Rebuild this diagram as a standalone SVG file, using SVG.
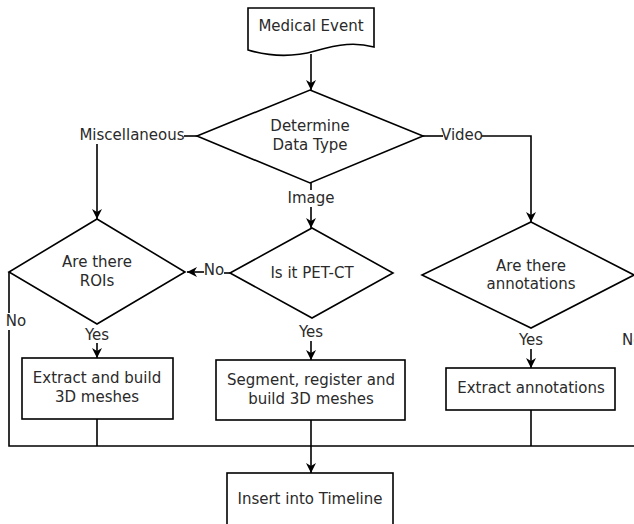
<svg xmlns="http://www.w3.org/2000/svg" width="634" height="524" viewBox="0 0 634 524">
<defs>
<style>
.s{fill:#fff;stroke:#000;stroke-width:1.6}
.c{fill:none;stroke:#000;stroke-width:1.6}
text{font-family:"DejaVu Sans",sans-serif;font-size:15px;fill:#2a2a2a;text-anchor:middle}
</style>
<marker id="a" viewBox="0 0 10 10" refX="10" refY="5" markerWidth="10" markerHeight="10" markerUnits="userSpaceOnUse" orient="auto">
<path d="M0,0 L10,5 L0,10 L3,5 z" fill="#000"/>
</marker>
</defs>
<rect width="634" height="524" fill="#fff"/>
<g id="connectors">
<path class="c" d="M311,54 V90" marker-end="url(#a)"/>
<path class="c" d="M197,136 H184"/>
<path class="c" d="M97,144 V219" marker-end="url(#a)"/>
<path class="c" d="M423,136 H443"/>
<path class="c" d="M481,136 H531 V222" marker-end="url(#a)"/>
<path class="c" d="M311,183 V190"/>
<path class="c" d="M311,207 V228" marker-end="url(#a)"/>
<path class="c" d="M230,273 H224"/>
<path class="c" d="M204,272 H187" marker-end="url(#a)"/>
<path class="c" d="M9,272 V313"/>
<path class="c" d="M9,330 V446 H634"/>
<path class="c" d="M97,343 V358" marker-end="url(#a)"/>
<path class="c" d="M311,341 V360" marker-end="url(#a)"/>
<path class="c" d="M531,349 V368" marker-end="url(#a)"/>
<path class="c" d="M97,419 V446"/>
<path class="c" d="M531,410 V446"/>
<path class="c" d="M311,420 V473" marker-end="url(#a)"/>
</g>
<g id="medical-event">
<path class="s" d="M248,8 H374 V47 C355,42 340,44 315,51 C290,58 265,55 248,50 Z"/>
<text x="311" y="31">Medical Event</text>
</g>
<g id="determine">
<path class="s" d="M310,90 L423,136 L310,183 L197,136 Z"/>
<text x="310" y="131">Determine</text>
<text x="310" y="150">Data Type</text>
</g>
<g id="labels">
<text x="132" y="140">Miscellaneous</text>
<text x="462" y="140">Video</text>
<text x="311" y="203">Image</text>
<text x="214" y="275">No</text>
<text x="16" y="326">No</text>
<text x="97" y="340">Yes</text>
<text x="311" y="337">Yes</text>
<text x="531" y="345">Yes</text>
<text x="622" y="345" style="text-anchor:start">No</text>
</g>
<g id="rois">
<path class="s" d="M97,219 L185,272 L97,324 L9,272 Z"/>
<text x="97" y="267">Are there</text>
<text x="97" y="286">ROIs</text>
</g>
<g id="petct">
<path class="s" d="M312,228 L393,273 L312,318 L230,273 Z"/>
<text x="312" y="278">Is it PET-CT</text>
</g>
<g id="annotations">
<path class="s" d="M531,222 L634,275 L531,328 L422,275 Z"/>
<text x="531" y="271">Are there</text>
<text x="531" y="289">annotations</text>
</g>
<g id="extract-meshes">
<rect class="s" x="22" y="358" width="151" height="61"/>
<text x="97" y="383">Extract and build</text>
<text x="97" y="402">3D meshes</text>
</g>
<g id="segment">
<rect class="s" x="216" y="360" width="189" height="60"/>
<text x="311" y="385">Segment, register and</text>
<text x="311" y="404">build 3D meshes</text>
</g>
<g id="extract-annotations">
<rect class="s" x="446" y="368" width="169" height="42"/>
<text x="531" y="393">Extract annotations</text>
</g>
<g id="insert">
<rect class="s" x="227" y="473" width="166" height="60"/>
<text x="310" y="504">Insert into Timeline</text>
</g>
</svg>
